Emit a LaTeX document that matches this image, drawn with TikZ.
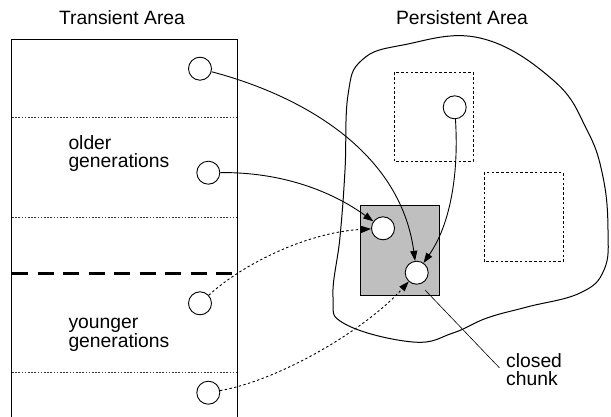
\documentclass[tikz,border=0pt]{standalone}
\usepackage{fontspec}
\setmainfont{Liberation Sans}
\usetikzlibrary{arrows.meta}
\begin{document}
\begin{tikzpicture}[x=1pt,y=-1pt,
  every node/.style={font=\fontsize{19.3}{17.7}\selectfont},
  obj/.style={circle,draw,fill=white,line width=0.9pt,minimum size=23pt,inner sep=0pt},
  txt/.style={inner sep=0pt,align=left},
  sep/.style={line width=0.6pt,dash pattern=on 1.6pt off 1.6pt,black!80},
  region/.style={line width=1pt,dash pattern=on 2.6pt off 2.2pt},
  ptr/.style={line width=0.9pt,-{Triangle[length=10pt,width=7pt]}},
  weakptr/.style={ptr,dash pattern=on 2.4pt off 2.4pt}]
\useasboundingbox (0,0) rectangle (611,417);

% titles
\node[txt,anchor=base] (ttl) at (122,25) {Transient Area};
\node[txt,anchor=base] (ptl) at (462,25) {Persistent Area};

% transient area: open-bottom column with generation separators
\draw[line width=1pt] (11.7,417) -- (11.7,39.3) -- (237,39.3) -- (237,417);
\draw[sep] (12,117.3) -- (237,117.3);
\draw[sep] (12,217.3) -- (237,217.3);
\draw[sep] (12,372.7) -- (237,372.7);
\draw[line width=2.8pt,dash pattern=on 16pt off 9.5pt] (12,273.3) -- (232,273.3);

% two-line labels, anchored on the baseline of their last line
\node[txt,anchor=base west] (old) at (68.3,167.7) {older\\generations};
\node[txt,anchor=base west] (yng) at (68.3,347.7) {younger\\generations};

% persistent area outline
\draw[line width=1pt] plot[smooth cycle,tension=0.7] coordinates {
  (480,38) (403,45) (362,60) (348,95) (345,170) (340,237) (333,297)
  (345,324) (413,342) (453,333) (487,318) (527,307) (580,293)
  (604,270) (608,230) (603,177) (587,130) (553,80)};

% chunks
\draw[region] (394,72.3) rectangle (473,161.3);
\draw[region] (484,172.7) rectangle (563.3,261.7);
\draw[line width=0.9pt,fill=black!25] (360.3,205.7) rectangle (439.3,295.3);

% objects
\node[obj] (c1) at (200,68.7) {};
\node[obj] (c2) at (208.3,172.7) {};
\node[obj] (c3) at (200,303.3) {};
\node[obj] (c4) at (208.3,392.7) {};
\node[obj] (ct) at (454.7,107.3) {};
\node[obj] (ca) at (383,228.3) {};
\node[obj] (cb) at (416.7,272.7) {};

% references
\draw[ptr] (c1) .. controls (300,95) and (400,150) .. (cb);
\draw[ptr] (c2) .. controls (280,172) and (330,190) .. (ca);
\draw[ptr] (ct) .. controls (459,175) and (450,225) .. (cb);
\draw[weakptr] (c3) .. controls (245,262) and (310,232) .. (ca);
\draw[weakptr] (c4) .. controls (280,380) and (365,330) .. (cb);

% closed chunk label
\node[txt,anchor=base west] (chunk) at (506,385.3) {closed\\chunk};
\coordinate (lead) at (425,290);
\draw[line width=0.6pt] (lead) -- ([xshift=-6.7pt,yshift=17.6pt]chunk.base west);
\end{tikzpicture}
\end{document}
